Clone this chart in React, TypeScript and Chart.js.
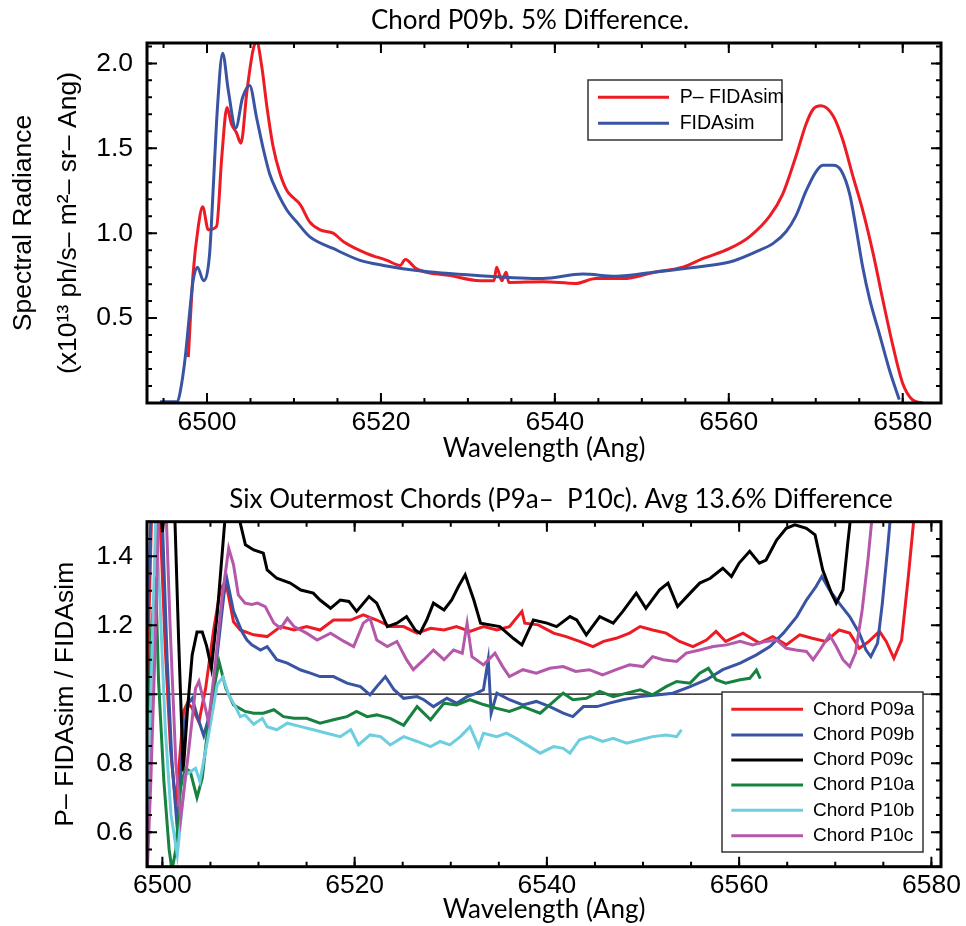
import { useEffect, useRef } from "react";
import { Chart, registerables } from "chart.js";

Chart.register(...registerables);

// ---------- text ----------
const TOP_TITLE = "Chord P09b. 5% Difference.";
const BOTTOM_TITLE = "Six Outermost Chords (P9a–  P10c). Avg 13.6% Difference";
const X_TITLE = "Wavelength (Ang)";
const TOP_Y_TITLE = ["Spectral Radiance", "(x10¹³ ph/s– m²– sr– Ang)"];
const BOTTOM_Y_TITLE = "P– FIDAsim / FIDAsim";
const topLabels = ["P– FIDAsim", "FIDAsim"];
const chordLabels = ["Chord P09a", "Chord P09b", "Chord P09c", "Chord P10a", "Chord P10b", "Chord P10c"];

// ---------- tick labels ----------
const xTickValues = [6500, 6520, 6540, 6560, 6580];
const topYTickValues = [0.5, 1.0, 1.5, 2.0];
const botYTickValues = [0.6, 0.8, 1.0, 1.2, 1.4];

// ---------- top panel: spectral radiance (x10^13) ----------
const pfidaWl = [6497.85, 6498.4, 6499.0, 6499.5, 6500.15, 6501.1, 6501.7, 6502.3, 6502.8, 6503.4, 6503.9, 6504.6, 6505.3, 6505.7, 6506.3, 6506.9, 6507.6, 6508.4, 6509.2, 6509.9, 6510.7, 6511.8, 6513.0, 6514.5, 6515.7, 6518.4, 6520.7, 6522.2, 6522.8, 6524.1, 6528.0, 6531.4, 6533.0, 6533.3, 6533.9, 6534.4, 6534.7, 6538.6, 6542.4, 6544.7, 6547.8, 6551.6, 6554.7, 6557.0, 6560.1, 6562.4, 6564.7, 6566.2, 6567.7, 6568.9, 6569.7, 6570.6, 6572.0, 6573.1, 6574.3, 6575.4, 6576.6, 6577.7, 6578.9, 6580.0, 6581.1, 6582.3];
const pfidaVal = [0.27, 0.76, 1.04, 1.155, 1.02, 1.04, 1.45, 1.74, 1.645, 1.59, 1.53, 1.84, 2.08, 2.13, 1.98, 1.74, 1.51, 1.35, 1.25, 1.21, 1.17, 1.067, 1.02, 1.0, 0.95, 0.88, 0.84, 0.81, 0.845, 0.79, 0.75, 0.72, 0.72, 0.80, 0.72, 0.77, 0.71, 0.714, 0.704, 0.733, 0.733, 0.772, 0.80, 0.85, 0.91, 0.98, 1.10, 1.23, 1.45, 1.645, 1.73, 1.75, 1.69, 1.55, 1.33, 1.135, 0.88, 0.61, 0.33, 0.115, 0.02, 0.0];

const fidaWl = [6494.6, 6496.6, 6496.9, 6497.5, 6498.0, 6498.4, 6498.9, 6499.6, 6500.3, 6500.7, 6501.2, 6501.8, 6502.45, 6503.3, 6504.1, 6504.9, 6505.7, 6506.5, 6507.2, 6508.0, 6509.2, 6510.3, 6511.8, 6514.5, 6517.6, 6520.3, 6524.1, 6531.4, 6538.6, 6543.2, 6547.0, 6551.6, 6556.2, 6560.1, 6563.1, 6565.1, 6566.6, 6567.7, 6568.9, 6570.0, 6570.8, 6572.0, 6572.9, 6573.9, 6574.6, 6575.4, 6576.2, 6577.3, 6578.5, 6579.6];
const fidaVal = [0.008, 0.008, 0.06, 0.27, 0.53, 0.72, 0.80, 0.72, 0.88, 1.25, 1.74, 2.06, 1.84, 1.62, 1.80, 1.87, 1.68, 1.49, 1.35, 1.25, 1.135, 1.067, 0.98, 0.91, 0.84, 0.81, 0.78, 0.75, 0.733, 0.759, 0.747, 0.772, 0.80, 0.83, 0.89, 0.94, 1.01, 1.10, 1.25, 1.36, 1.40, 1.40, 1.37, 1.23, 1.04, 0.80, 0.61, 0.41, 0.19, 0.02];

// ---------- bottom panel: ratio P-FIDAsim / FIDAsim ----------
const p09aWl = [6498.45, 6498.9, 6499.3, 6499.7, 6500.3, 6500.85, 6501.4, 6502.2, 6502.6, 6503.1, 6503.8, 6504.5, 6505.35, 6506.05, 6506.6, 6507.4, 6508.1, 6509.5, 6510.9, 6512.3, 6513.7, 6515.0, 6516.4, 6517.8, 6519.6, 6520.9, 6522.3, 6523.7, 6525.1, 6526.5, 6527.9, 6529.3, 6530.6, 6532.0, 6533.4, 6534.8, 6536.1, 6537.4, 6537.7, 6539.1, 6540.7, 6542.0, 6543.4, 6544.8, 6545.9, 6547.2, 6548.6, 6549.7, 6551.0, 6552.4, 6553.8, 6555.2, 6556.6, 6557.6, 6558.6, 6560.4, 6562.1, 6563.5, 6564.9, 6566.3, 6567.6, 6569.0, 6570.4, 6571.5, 6572.5, 6573.5, 6574.6, 6575.3, 6576.1, 6576.9, 6577.6, 6578.1, 6578.5];
const p09aVal = [1.05, 1.55, 1.8, 1.55, 1.134, 0.84, 0.68, 0.95, 0.974, 0.96, 0.92, 1.017, 1.19, 1.307, 1.326, 1.21, 1.186, 1.172, 1.167, 1.196, 1.186, 1.196, 1.186, 1.215, 1.215, 1.23, 1.215, 1.196, 1.196, 1.177, 1.191, 1.186, 1.196, 1.182, 1.196, 1.186, 1.196, 1.24, 1.206, 1.201, 1.177, 1.167, 1.153, 1.138, 1.153, 1.162, 1.177, 1.196, 1.186, 1.177, 1.153, 1.138, 1.157, 1.182, 1.153, 1.177, 1.148, 1.167, 1.143, 1.172, 1.162, 1.153, 1.186, 1.177, 1.133, 1.153, 1.182, 1.153, 1.104, 1.157, 1.341, 1.486, 1.6];

const p09bWl = [6498.45, 6498.9, 6499.5, 6500.0, 6500.5, 6501.0, 6501.55, 6502.07, 6502.6, 6503.1, 6503.7, 6504.3, 6505.0, 6505.7, 6506.4, 6506.7, 6507.4, 6508.3, 6508.8, 6509.3, 6510.2, 6510.9, 6511.9, 6513.0, 6514.4, 6515.4, 6516.4, 6517.8, 6519.2, 6520.6, 6521.6, 6522.3, 6523.2, 6524.1, 6525.1, 6526.5, 6527.2, 6528.2, 6529.6, 6530.6, 6531.7, 6532.7, 6533.4, 6533.9, 6534.2, 6534.8, 6536.1, 6537.5, 6538.9, 6540.3, 6541.7, 6542.7, 6543.8, 6545.2, 6546.5, 6547.9, 6549.7, 6551.4, 6553.1, 6554.9, 6556.6, 6558.3, 6560.1, 6561.8, 6563.2, 6564.6, 6566.0, 6567.0, 6568.0, 6568.6, 6569.4, 6570.4, 6571.5, 6572.5, 6573.2, 6573.7, 6574.4, 6574.9, 6575.5, 6575.8, 6576.1];
const p09bVal = [1.2, 1.6, 1.7, 1.5, 1.1, 0.8, 0.61, 0.84, 0.97, 0.988, 0.93, 0.88, 0.95, 1.114, 1.288, 1.336, 1.24, 1.18, 1.157, 1.143, 1.128, 1.138, 1.10, 1.09, 1.07, 1.061, 1.051, 1.051, 1.032, 1.022, 0.998, 1.022, 1.051, 1.013, 0.988, 0.993, 0.984, 0.964, 0.988, 0.974, 0.993, 1.003, 1.013, 1.10, 0.945, 1.003, 0.984, 0.969, 0.979, 0.964, 0.945, 0.935, 0.964, 0.964, 0.974, 0.984, 0.993, 0.998, 1.003, 1.022, 1.042, 1.071, 1.09, 1.114, 1.138, 1.177, 1.225, 1.273, 1.312, 1.341, 1.302, 1.264, 1.225, 1.177, 1.128, 1.109, 1.148, 1.264, 1.438, 1.534, 1.65];

const p09cWl = [6498.45, 6499.5, 6500.0, 6500.5, 6501.2, 6501.7, 6502.17, 6502.6, 6503.1, 6503.6, 6504.15, 6504.6, 6505.1, 6505.7, 6506.4, 6506.8, 6507.6, 6508.1, 6508.64, 6509.5, 6510.5, 6510.9, 6511.9, 6513.3, 6514.4, 6515.7, 6516.4, 6517.5, 6518.5, 6519.4, 6520.2, 6521.5, 6522.3, 6523.4, 6524.4, 6525.4, 6526.3, 6526.8, 6527.5, 6528.2, 6529.3, 6530.1, 6530.8, 6531.5, 6532.4, 6533.1, 6535.1, 6536.5, 6537.4, 6538.6, 6540.0, 6541.0, 6542.4, 6543.1, 6544.1, 6545.5, 6546.9, 6547.9, 6549.3, 6550.3, 6551.7, 6552.6, 6553.6, 6554.9, 6555.9, 6557.0, 6558.3, 6559.2, 6560.0, 6561.1, 6562.1, 6562.8, 6563.9, 6564.9, 6565.8, 6567.0, 6567.9, 6568.7, 6569.6, 6570.1, 6570.8, 6571.3, 6571.8, 6572.2];
const p09cVal = [1.8, 1.7, 1.47, 1.6, 1.6, 1.15, 0.776, 0.95, 1.114, 1.18, 1.18, 1.14, 1.075, 1.23, 1.47, 1.6, 1.6, 1.496, 1.433, 1.418, 1.409, 1.36, 1.336, 1.322, 1.302, 1.293, 1.273, 1.249, 1.273, 1.269, 1.24, 1.283, 1.264, 1.196, 1.206, 1.225, 1.186, 1.177, 1.215, 1.264, 1.244, 1.273, 1.312, 1.346, 1.273, 1.206, 1.196, 1.162, 1.143, 1.215, 1.206, 1.196, 1.225, 1.215, 1.172, 1.225, 1.206, 1.24, 1.293, 1.249, 1.302, 1.322, 1.254, 1.293, 1.322, 1.336, 1.365, 1.341, 1.38, 1.414, 1.38, 1.389, 1.447, 1.481, 1.491, 1.481, 1.462, 1.36, 1.293, 1.264, 1.302, 1.438, 1.563, 1.7];

const p10aWl = [6498.45, 6498.9, 6499.3, 6499.6, 6500.15, 6500.7, 6501.0, 6501.4, 6501.9, 6502.4, 6502.9, 6503.6, 6504.15, 6504.8, 6505.5, 6505.9, 6506.6, 6507.4, 6508.6, 6509.5, 6510.5, 6511.6, 6512.6, 6513.7, 6515.0, 6516.4, 6517.8, 6519.2, 6520.2, 6521.3, 6522.3, 6523.7, 6525.1, 6526.5, 6527.9, 6529.3, 6530.6, 6532.0, 6533.4, 6534.8, 6536.1, 6537.5, 6539.3, 6540.3, 6541.7, 6542.7, 6544.1, 6545.5, 6546.9, 6548.3, 6549.7, 6551.0, 6552.4, 6553.5, 6554.9, 6555.9, 6556.8, 6557.6, 6558.6, 6560.1, 6561.1, 6561.8, 6562.2];
const p10aVal = [0.9, 1.2, 1.34, 1.04, 0.75, 0.55, 0.49, 0.55, 0.73, 0.785, 0.776, 0.70, 0.757, 0.92, 1.037, 1.094, 1.017, 0.969, 0.95, 0.945, 0.945, 0.955, 0.935, 0.93, 0.93, 0.916, 0.926, 0.935, 0.95, 0.935, 0.94, 0.93, 0.91, 0.964, 0.926, 0.974, 0.969, 0.984, 0.97, 0.959, 0.95, 0.964, 0.945, 0.969, 1.003, 0.984, 0.988, 1.008, 0.993, 1.003, 1.013, 0.998, 1.022, 1.037, 1.032, 1.061, 1.075, 1.042, 1.032, 1.042, 1.046, 1.07, 1.045];

const p10bWl = [6498.45, 6498.9, 6499.3, 6499.7, 6500.3, 6500.9, 6501.55, 6502.4, 6503.45, 6503.9, 6504.8, 6505.7, 6506.3, 6506.9, 6507.6, 6508.1, 6508.6, 6509.5, 6510.4, 6510.9, 6511.9, 6513.0, 6514.4, 6515.7, 6517.1, 6518.5, 6519.6, 6520.4, 6521.6, 6522.7, 6523.7, 6525.1, 6526.5, 6527.9, 6528.9, 6529.9, 6531.0, 6532.0, 6532.9, 6533.4, 6534.8, 6535.8, 6536.8, 6538.2, 6539.3, 6540.7, 6541.7, 6542.4, 6543.4, 6544.5, 6545.8, 6546.9, 6548.3, 6549.7, 6551.0, 6552.4, 6553.5, 6554.0];
const p10bVal = [0.6, 1.1, 1.5, 1.3, 0.9, 0.65, 0.534, 0.766, 0.785, 0.747, 0.882, 1.027, 1.05, 0.998, 0.964, 0.935, 0.94, 0.913, 0.93, 0.906, 0.897, 0.916, 0.906, 0.897, 0.887, 0.877, 0.897, 0.853, 0.882, 0.877, 0.853, 0.877, 0.863, 0.848, 0.863, 0.853, 0.877, 0.906, 0.848, 0.887, 0.877, 0.887, 0.872, 0.848, 0.829, 0.848, 0.843, 0.829, 0.868, 0.877, 0.863, 0.872, 0.858, 0.868, 0.877, 0.882, 0.877, 0.897];

const p10cWl = [6498.45, 6498.8, 6499.2, 6499.7, 6500.3, 6500.8, 6501.4, 6501.9, 6502.75, 6503.45, 6503.8, 6504.3, 6504.8, 6505.5, 6506.2, 6506.9, 6507.4, 6507.9, 6508.6, 6509.3, 6509.9, 6510.7, 6511.6, 6512.3, 6513.0, 6513.7, 6515.0, 6516.1, 6517.5, 6518.9, 6519.9, 6520.9, 6521.6, 6522.3, 6523.4, 6524.4, 6525.4, 6526.1, 6527.2, 6528.2, 6529.3, 6530.3, 6531.2, 6531.7, 6532.2, 6533.4, 6534.6, 6535.4, 6536.1, 6537.5, 6538.9, 6540.3, 6541.7, 6543.0, 6544.4, 6545.8, 6547.2, 6548.6, 6550.0, 6551.0, 6552.1, 6553.5, 6554.5, 6555.9, 6557.3, 6558.7, 6560.1, 6561.4, 6562.8, 6563.9, 6564.9, 6565.9, 6567.0, 6567.7, 6568.4, 6569.4, 6570.1, 6570.8, 6571.5, 6572.1, 6572.8, 6573.4, 6573.9, 6574.2];
const p10cVal = [0.5, 0.75, 1.1, 1.6, 1.6, 1.2, 0.8, 0.64, 0.84, 1.017, 1.037, 0.98, 0.92, 1.085, 1.278, 1.423, 1.375, 1.288, 1.264, 1.26, 1.264, 1.254, 1.206, 1.191, 1.22, 1.196, 1.177, 1.157, 1.177, 1.153, 1.138, 1.206, 1.22, 1.157, 1.138, 1.153, 1.10, 1.071, 1.10, 1.128, 1.10, 1.128, 1.119, 1.206, 1.109, 1.085, 1.119, 1.08, 1.051, 1.071, 1.061, 1.075, 1.08, 1.066, 1.071, 1.056, 1.071, 1.085, 1.08, 1.109, 1.10, 1.095, 1.119, 1.128, 1.138, 1.143, 1.153, 1.143, 1.153, 1.157, 1.133, 1.128, 1.124, 1.10, 1.128, 1.172, 1.138, 1.10, 1.08, 1.119, 1.244, 1.389, 1.534, 1.65];

const unityVal = [1, 1];

// ---------- axis ranges ----------
const topXRange = [6493.1, 6584.4];
const topYRange = [0, 2.12];
const botXRange = [6498.4, 6581.0];
const botYRange = [0.5, 1.5];

const RED = "#ED1C24";
const BLUE = "#3A54A4";
const BLACK = "#000000";
const GREEN = "#17813F";
const CYAN = "#6DCEDF";
const MAGENTA = "#B558A9";
const chordColors = [RED, BLUE, BLACK, GREEN, CYAN, MAGENTA];

const TICK_FONT = { family: "'Liberation Sans', Arial, sans-serif", size: 26.5, lineHeight: 1.2 };
const MYRIAD = "Lato, 'Open Sans', sans-serif";

function pts(xs: number[], ys: number[]) {
  return xs.map((x, i) => ({ x, y: ys[i] }));
}

function setTicks(values: number[]) {
  return (scale: any) => {
    scale.ticks = values.map((value) => ({ value }));
  };
}

function framePlugin(id: string, xMajor: number, xMinor: number, yMajor: number, yMinor: number) {
  return {
    id,
    afterDatasetsDraw(chart: any) {
      const { ctx, chartArea: a, scales } = chart;
      const xs = scales.x;
      const ys = scales.y;
      ctx.save();
      ctx.strokeStyle = "#000";
      const marks = (scale: any, step: number, len: number, horiz: boolean) => {
        const i0 = Math.ceil(scale.min / step - 1e-6);
        const i1 = Math.floor(scale.max / step + 1e-6);
        ctx.lineWidth = 2;
        ctx.beginPath();
        for (let i = i0; i <= i1; i++) {
          const p = scale.getPixelForValue(i * step);
          if (horiz) {
            ctx.moveTo(p, a.bottom);
            ctx.lineTo(p, a.bottom - len);
            ctx.moveTo(p, a.top);
            ctx.lineTo(p, a.top + len);
          } else {
            ctx.moveTo(a.left, p);
            ctx.lineTo(a.left + len, p);
            ctx.moveTo(a.right, p);
            ctx.lineTo(a.right - len, p);
          }
        }
        ctx.stroke();
      };
      marks(xs, xMinor, 5, true);
      marks(xs, xMajor, 10, true);
      marks(ys, yMinor, 5, false);
      marks(ys, yMajor, 10, false);
      ctx.lineWidth = 3;
      ctx.strokeRect(a.left, a.top, a.right - a.left, a.bottom - a.top);
      ctx.restore();
    },
  };
}

function titlePlugin(id: string, text: string, cx: number, baseline: number) {
  return {
    id,
    afterDraw(chart: any) {
      const ctx = chart.ctx;
      ctx.save();
      ctx.fillStyle = "#000";
      ctx.font = `26px ${MYRIAD}`;
      ctx.textAlign = "center";
      ctx.textBaseline = "alphabetic";
      ctx.fillText(text, cx, baseline);
      ctx.restore();
    },
  };
}

function legendPlugin(
  id: string,
  labels: string[],
  box: number[],
  lineX: number[],
  textX: number,
  rows: number[],
  fontSize: number
) {
  return {
    id,
    afterDraw(chart: any) {
      const ctx = chart.ctx;
      const items = chart.data.datasets.filter((d: any) => labels.includes(d.label));
      ctx.save();
      ctx.fillStyle = "#fff";
      ctx.fillRect(box[0], box[1], box[2], box[3]);
      ctx.strokeStyle = "#333";
      ctx.lineWidth = 1.5;
      ctx.strokeRect(box[0], box[1], box[2], box[3]);
      ctx.font = `${fontSize}px 'Liberation Sans', Arial, sans-serif`;
      ctx.textBaseline = "middle";
      ctx.textAlign = "left";
      items.forEach((d: any, i: number) => {
        const y = rows[i];
        ctx.strokeStyle = d.borderColor;
        ctx.lineWidth = 3;
        ctx.beginPath();
        ctx.moveTo(lineX[0], y);
        ctx.lineTo(lineX[1], y);
        ctx.stroke();
        ctx.fillStyle = "#000";
        ctx.fillText(d.label, textX, y);
      });
      ctx.restore();
    },
  };
}

function axisCommon() {
  return {
    type: "linear" as const,
    grid: { display: false, drawTicks: false },
    border: { display: false },
  };
}

function topConfig(): any {
  return {
    type: "line",
    data: {
      datasets: [
        {
          label: topLabels[0],
          data: pts(pfidaWl, pfidaVal),
          borderColor: RED,
          borderWidth: 3,
          pointRadius: 0,
          cubicInterpolationMode: "monotone",
          order: 2,
        },
        {
          label: topLabels[1],
          data: pts(fidaWl, fidaVal),
          borderColor: BLUE,
          borderWidth: 3,
          pointRadius: 0,
          cubicInterpolationMode: "monotone",
          order: 1,
        },
      ],
    },
    options: {
      animation: false,
      responsive: false,
      devicePixelRatio: 1,
      events: [],
      layout: { padding: { top: 43, right: 25, left: 0, bottom: 456 } },
      plugins: { legend: { display: false }, tooltip: { enabled: false }, title: { display: false } },
      scales: {
        x: {
          ...axisCommon(),
          min: topXRange[0],
          max: topXRange[1],
          afterBuildTicks: setTicks(xTickValues),
          ticks: {
            autoSkip: false,
            maxRotation: 0,
            padding: 4,
            color: "#000",
            font: TICK_FONT,
            callback: (v: any) => String(v),
          },
          title: {
            display: true,
            text: X_TITLE,
            color: "#000",
            font: { family: MYRIAD, size: 26, lineHeight: 1 },
            padding: { top: 0, bottom: 8.5 },
          },
          afterFit: (s: any) => {
            s.height = 67;
          },
        },
        y: {
          ...axisCommon(),
          min: topYRange[0],
          max: topYRange[1],
          afterBuildTicks: setTicks(topYTickValues),
          ticks: {
            autoSkip: false,
            padding: 14,
            color: "#000",
            font: TICK_FONT,
            callback: (v: any) => Number(v).toFixed(1),
          },
          title: {
            display: true,
            text: TOP_Y_TITLE,
            color: "#000",
            font: { family: "'Liberation Sans', Arial, sans-serif", size: 26.5, lineHeight: "45px" },
            padding: { top: 1, bottom: 0 },
          },
          afterFit: (s: any) => {
            s.width = 147;
          },
        },
      },
    },
    plugins: [
      framePlugin("frameTop", 20, 5, 0.5, 0.1),
      titlePlugin("titleTop", TOP_TITLE, 530, 29.3),
      legendPlugin("legendTop", topLabels, [588, 80, 194, 60], [598, 669], 679.7, [97.3, 123.3], 19.5),
    ],
  };
}

function bottomConfig(): any {
  const wls = [p09aWl, p09bWl, p09cWl, p10aWl, p10bWl, p10cWl];
  const vals = [p09aVal, p09bVal, p09cVal, p10aVal, p10bVal, p10cVal];
  const chordSets = chordLabels.map((label, i) => ({
    label,
    data: pts(wls[i], vals[i]),
    borderColor: chordColors[i],
    borderWidth: 3,
    pointRadius: 0,
    tension: 0,
    order: 6 - i,
  }));
  return {
    type: "line",
    data: {
      datasets: [
        {
          label: "unity",
          data: pts(botXRange, unityVal),
          borderColor: "#000",
          borderWidth: 1.2,
          pointRadius: 0,
          order: 20,
        },
        ...chordSets,
      ],
    },
    options: {
      animation: false,
      responsive: false,
      devicePixelRatio: 1,
      events: [],
      layout: { padding: { top: 521.7, right: 25, left: 0, bottom: 0 } },
      plugins: { legend: { display: false }, tooltip: { enabled: false }, title: { display: false } },
      scales: {
        x: {
          ...axisCommon(),
          min: botXRange[0],
          max: botXRange[1],
          afterBuildTicks: setTicks(xTickValues),
          ticks: {
            autoSkip: false,
            maxRotation: 0,
            padding: 3,
            color: "#000",
            font: TICK_FONT,
            callback: (v: any) => String(v),
          },
          title: {
            display: true,
            text: X_TITLE,
            color: "#000",
            font: { family: MYRIAD, size: 26, lineHeight: 1 },
            padding: { top: 0, bottom: 3 },
          },
          afterFit: (s: any) => {
            s.height = 59.3;
          },
        },
        y: {
          ...axisCommon(),
          min: botYRange[0],
          max: botYRange[1],
          afterBuildTicks: setTicks(botYTickValues),
          ticks: {
            autoSkip: false,
            padding: 14,
            color: "#000",
            font: TICK_FONT,
            callback: (v: any) => Number(v).toFixed(1),
          },
          title: {
            display: true,
            text: BOTTOM_Y_TITLE,
            color: "#000",
            font: { family: "'Liberation Sans', Arial, sans-serif", size: 26.5, lineHeight: "45px" },
            padding: { top: 43.3, bottom: 0 },
          },
          afterFit: (s: any) => {
            s.width = 147;
          },
        },
      },
    },
    plugins: [
      framePlugin("frameBot", 20, 5, 0.2, 0.05),
      titlePlugin("titleBot", BOTTOM_TITLE, 561, 508.3),
      legendPlugin(
        "legendBot",
        chordLabels,
        [722, 692, 201, 160],
        [731.3, 803],
        813,
        [709.3, 735, 760, 785, 810.3, 835.7],
        19
      ),
    ],
  };
}

export default function App() {
  const topRef = useRef<HTMLCanvasElement>(null);
  const botRef = useRef<HTMLCanvasElement>(null);

  useEffect(() => {
    Chart.defaults.color = "#000";
    const c1 = new Chart(topRef.current as HTMLCanvasElement, topConfig());
    const c2 = new Chart(botRef.current as HTMLCanvasElement, bottomConfig());
    return () => {
      c1.destroy();
      c2.destroy();
    };
  }, []);

  const cs: any = { position: "absolute", left: 0, top: 0, width: 966, height: 926 };
  return (
    <div style={{ position: "absolute", left: 0, top: 0, width: 966, height: 926, background: "#fff" }}>
      <canvas ref={topRef} width={966} height={926} style={cs} />
      <canvas ref={botRef} width={966} height={926} style={cs} />
    </div>
  );
}
